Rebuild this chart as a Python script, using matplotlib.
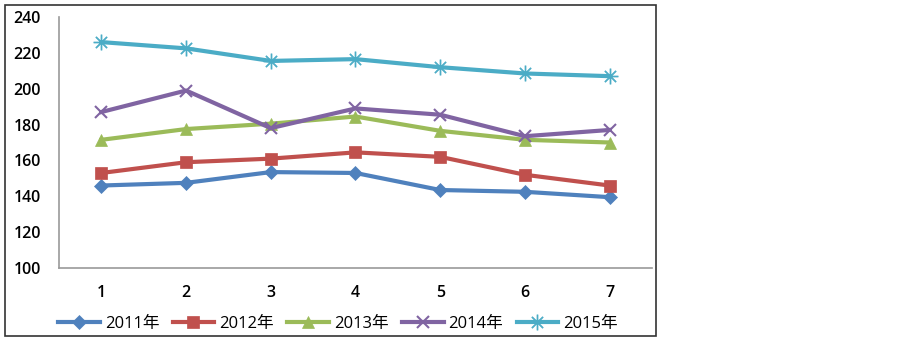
import matplotlib.pyplot as plt
from matplotlib.patches import Rectangle

plt.rcParams['font.family'] = ['Open Sans', 'Noto Sans CJK SC']

# data
months = [1, 2, 3, 4, 5, 6, 7]
y2011 = [146.0, 147.5, 153.5, 153.0, 143.5, 142.5, 139.5]
y2012 = [153.0, 159.0, 161.0, 164.5, 162.0, 152.0, 146.0]
y2013 = [171.5, 177.5, 180.5, 184.5, 176.5, 171.5, 170.0]
y2014 = [187.0, 199.0, 178.0, 189.0, 185.5, 173.5, 177.0]
y2015 = [226.0, 222.5, 215.5, 216.5, 212.0, 208.5, 207.0]
labels = ['2011年', '2012年', '2013年', '2014年', '2015年']

series = [y2011, y2012, y2013, y2014, y2015]
colors = ['#4F81BD', '#C0504D', '#9BBB59', '#8064A2', '#4BACC6']
markers = ['D', 's', '^', 'x', '$\u2733$']
msizes = [7, 9, 9, 9, 11]

fig = plt.figure(figsize=(9.03, 3.47), dpi=100)
ax = fig.add_axes([59/903, 1 - 268/347, (652 - 59)/903, (268 - 17)/347])

for vals, c, m, ms, lab in zip(series, colors, markers, msizes, labels):
    ax.plot(months, vals, color=c, lw=3, marker=m, markersize=ms,
            markeredgewidth=1.5 if m == 'x' else 0.5, markeredgecolor=c,
            label=lab)

ax.set_xlim(0.5, 7.5)
ax.set_ylim(100, 240)
ax.set_yticks(range(100, 241, 20))
ax.set_xticks(months)
ax.tick_params(length=0, labelsize=11.5)
ax.tick_params(axis='y', pad=13)
ax.tick_params(axis='x', pad=12)
for t in ax.get_xticklabels() + ax.get_yticklabels():
    t.set_fontweight('semibold')
for s in ['top', 'right']:
    ax.spines[s].set_visible(False)
for s in ['left', 'bottom']:
    ax.spines[s].set_color('#999999')
    ax.spines[s].set_linewidth(1.2)

leg = fig.legend(loc='center', bbox_to_anchor=(338/903, 1 - 324/347), ncol=5,
                 frameon=False, fontsize=12, handlelength=2.5,
                 columnspacing=0.8, handletextpad=0.3)

# outer chart border
fig.patches.append(Rectangle((5/903, 1 - 336/347), 651/903, 331/347,
                             transform=fig.transFigure, fill=False,
                             edgecolor='#333333', lw=1.2))

fig.savefig('out.png', dpi=100)
